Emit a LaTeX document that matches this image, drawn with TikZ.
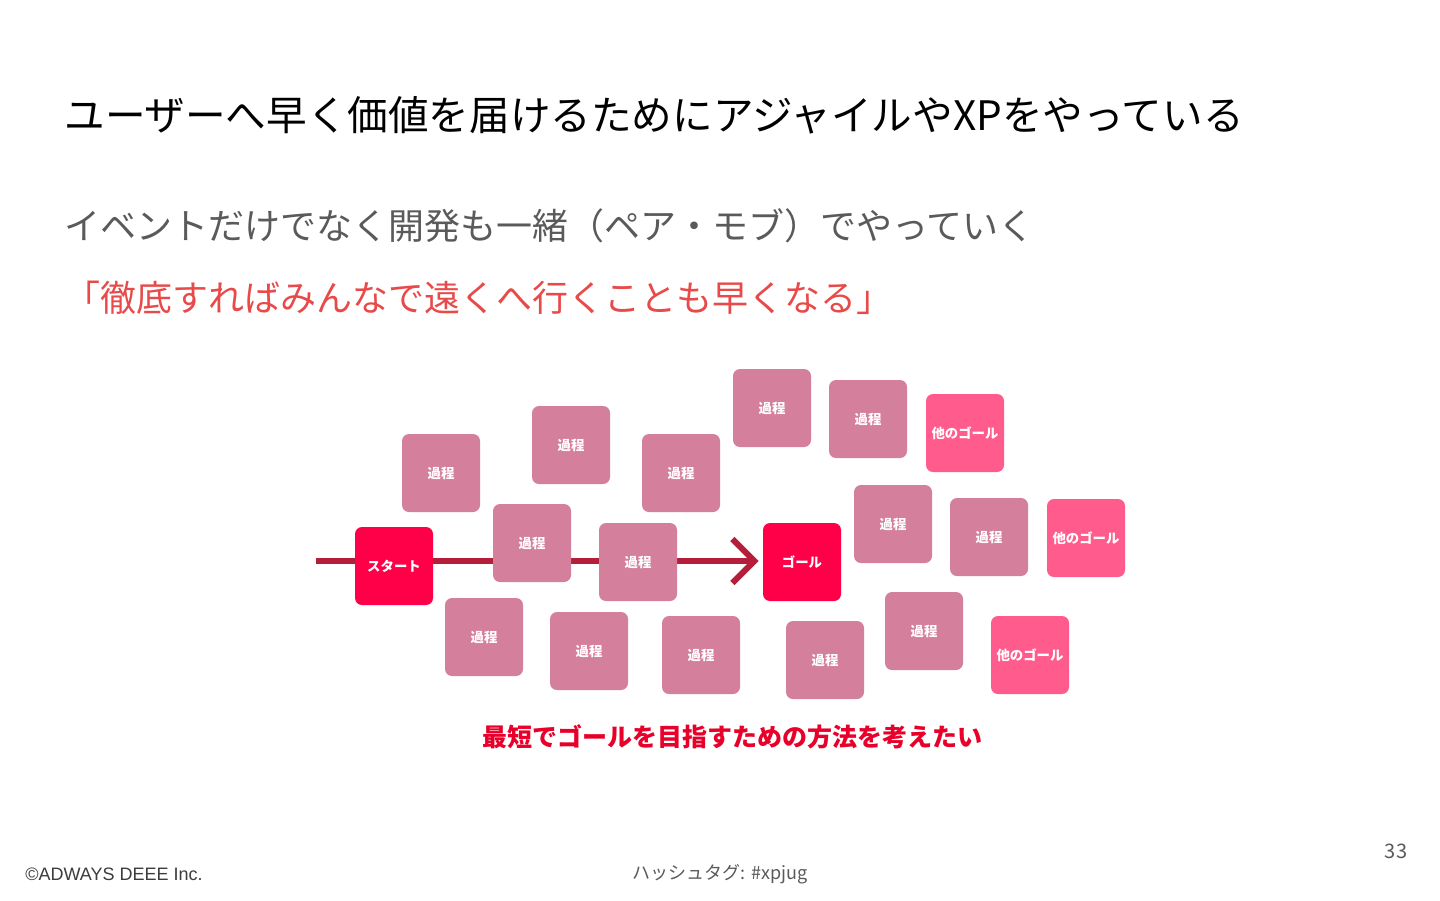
\documentclass[tikz,border=0pt]{standalone}
\usepackage{fontspec}
\setmainfont{Noto Sans CJK JP}
\newfontfamily\footfont{Liberation Sans}
\usetikzlibrary{arrows.meta}
\definecolor{procpink}{HTML}{D4809C}
\definecolor{goalred}{HTML}{FF0048}
\definecolor{othergoal}{HTML}{FF5C8D}
\definecolor{pathred}{HTML}{B51E3A}
\definecolor{quotered}{HTML}{E84A4A}
\definecolor{boldred}{HTML}{E8002A}
\definecolor{subgray}{HTML}{5A5A5A}
\definecolor{footgray}{HTML}{3C3C3C}
\pgfdeclarelayer{bg}
\pgfdeclarelayer{conn}
\pgfsetlayers{bg,conn,main}
\tikzset{
  card/.style={rounded corners=3.5pt, minimum width=39pt, minimum height=39pt, inner sep=0pt,
    text=white, font=\fontsize{6.7pt}{8pt}\selectfont\bfseries},
  proc/.style={card, fill=procpink},
  goalbox/.style={card, fill=goalred},
  othergoalbox/.style={card, fill=othergoal},
  plaintext/.style={inner sep=0pt, anchor=west},
}
\begin{document}
\begin{tikzpicture}[x=0.5pt,y=-0.5pt]
\useasboundingbox (0,0) rectangle (1440,900);
\begin{pgfonlayer}{bg}
\fill[white] (0,0) rectangle (1440,900);
\end{pgfonlayer}

% texts
\node[plaintext, font=\fontsize{20.3pt}{24pt}\selectfont] (title) at (64,115) {ユーザーへ早く価値を届けるためにアジャイルやXPをやっている};
\node[plaintext, text=subgray, font=\fontsize{18pt}{22pt}\selectfont] (sub) at (64,226) {イベントだけでなく開発も一緒（ペア・モブ）でやっていく};
\node[plaintext, text=quotered, font=\fontsize{18pt}{22pt}\selectfont] (quote) at (64,298) {「徹底すればみんなで遠くへ行くことも早くなる」};
\node[inner sep=0pt, text=boldred, font=\fontsize{12.5pt}{15pt}\selectfont\bfseries] (concl) at (732,737) {最短でゴールを目指すための方法を考えたい};

% cards
\node[goalbox] (start) at (394,566) {スタート};
\node[goalbox] (goal) at (802,562) {ゴール};
\node[proc] (p1) at (441,473) {過程};
\node[proc] (p2) at (571,445) {過程};
\node[proc] (p3) at (681,473) {過程};
\node[proc] (p4) at (532,543) {過程};
\node[proc] (p5) at (638,562) {過程};
\node[proc] (p6) at (772,408) {過程};
\node[proc] (p7) at (868,419) {過程};
\node[othergoalbox] (og1) at (965,433) {他のゴール};
\node[proc] (p8) at (893,524) {過程};
\node[proc] (p9) at (989,537) {過程};
\node[othergoalbox] (og2) at (1086,538) {他のゴール};
\node[proc] (p10) at (484,637) {過程};
\node[proc] (p11) at (589,651) {過程};
\node[proc] (p12) at (701,655) {過程};
\node[proc] (p13) at (825,660) {過程};
\node[proc] (p14) at (924,631) {過程};
\node[othergoalbox] (og3) at (1030,655) {他のゴール};

% connector
\coordinate (lstart) at (316,561);
\begin{pgfonlayer}{conn}
\draw[pathred, line width=3pt, -{Straight Barb[length=11pt, width=22pt, line width=3pt]}]
  (lstart) -- ([xshift=-2pt]goal.west |- lstart);
\end{pgfonlayer}

% footer
\node[plaintext, text=footgray, font=\footfont\fontsize{9pt}{10pt}\selectfont] (copy) at (25,874) {©ADWAYS DEEE Inc.};
\node[inner sep=0pt, text=subgray, font=\fontsize{9pt}{11pt}\selectfont] (hash) at (720,874) {ハッシュタグ: \#xpjug};
\node[inner sep=0pt, text=subgray, font=\fontsize{10pt}{12pt}\selectfont] (page) at (1396,851) {33};
\end{tikzpicture}
\end{document}
